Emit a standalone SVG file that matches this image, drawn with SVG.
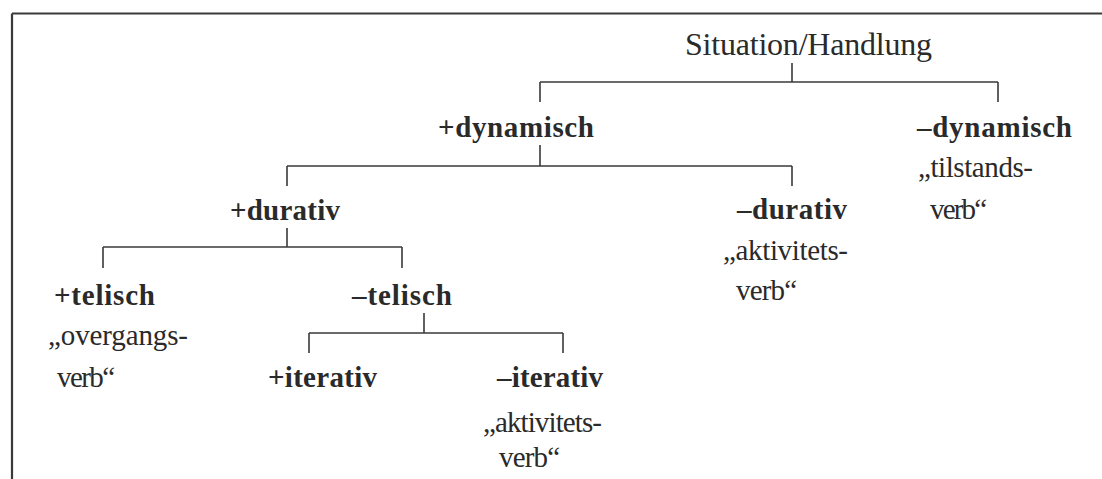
<svg xmlns="http://www.w3.org/2000/svg" width="1102" height="479" viewBox="0 0 1102 479">
<style>
  .t { font-family: "Liberation Serif", "Times New Roman", serif; font-size: 29px; fill: #2a2a2a; }
  .b { font-weight: bold; }
  .big { font-size: 32px; }
  .ln { stroke: #3a3a3a; stroke-width: 1.6; fill: none; }
  .fr { stroke: #3a3a3a; stroke-width: 2.2; fill: none; }
</style>
<rect x="0" y="0" width="1102" height="479" fill="#ffffff"/>
<g id="frame">
  <path class="fr" d="M12,13.5 H1102 M12,13.5 V479"/>
</g>
<g id="connectors">
  <path class="ln" d="M792,63 V82 M540,82 H998 M540,82 V102 M998,82 V102"/>
  <path class="ln" d="M540,145 V166 M287,166 H792 M287,166 V186 M792,166 V186"/>
  <path class="ln" d="M287,228 V247 M103,247 H402 M103,247 V268 M402,247 V268"/>
  <path class="ln" d="M424,313 V333 M309,333 H563 M309,333 V353 M563,333 V353"/>
</g>
<g id="root"><text class="t big" x="685" y="55" textLength="247">Situation/Handlung</text></g>
<g id="plus-dynamisch"><text class="t b" x="438" y="137" textLength="156">+dynamisch</text></g>
<g id="minus-dynamisch">
  <text class="t b" x="917" y="137" textLength="155">–dynamisch</text>
  <text class="t" x="918" y="177" textLength="115">„tilstands-</text>
  <text class="t" x="930" y="219" textLength="57">verb“</text>
</g>
<g id="plus-durativ"><text class="t b" x="230" y="220" textLength="110">+durativ</text></g>
<g id="minus-durativ">
  <text class="t b" x="737" y="219" textLength="110">–durativ</text>
  <text class="t" x="723" y="260" textLength="125">„aktivitets-</text>
  <text class="t" x="736" y="300" textLength="61">verb“</text>
</g>
<g id="plus-telisch">
  <text class="t b" x="54" y="305" textLength="101">+telisch</text>
  <text class="t" x="48" y="345" textLength="140">„overgangs-</text>
  <text class="t" x="57" y="387" textLength="58">verb“</text>
</g>
<g id="minus-telisch"><text class="t b" x="352" y="305" textLength="100">–telisch</text></g>
<g id="plus-iterativ"><text class="t b" x="268" y="387" textLength="109">+iterativ</text></g>
<g id="minus-iterativ">
  <text class="t b" x="497" y="387" textLength="106">–iterativ</text>
  <text class="t" x="483" y="432" textLength="119">„aktivitets-</text>
  <text class="t" x="499" y="467" textLength="61">verb“</text>
</g>
</svg>
